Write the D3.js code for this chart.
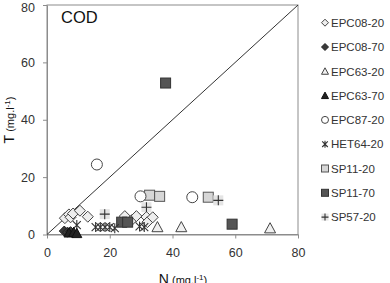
<!DOCTYPE html>
<html><head><meta charset="utf-8">
<script src="https://cdn.jsdelivr.net/npm/d3@7/dist/d3.min.js"></script>
<style>body{margin:0;background:#fff;}svg{display:block;font-family:"Liberation Sans",Arial,sans-serif;}</style>
</head><body>
<script>
const seriesNames = ["EPC08-20","EPC08-70","EPC63-20","EPC63-70","EPC87-20","HET64-20","SP11-20","SP11-70","SP57-20"];
const EPC08_20 = [[5.7,5.7],[7,7],[7.5,6],[8.3,7.3],[10.5,8.3],[13,6.2],[24.8,6.4],[27,5],[28.5,6.4],[31.7,6.1],[32,4.3],[33.7,6]];
const EPC08_70 = [[5.5,1.2],[6.5,0.8],[7.5,1.0]];
const EPC63_20 = [[35.2,2.6],[42.8,2.6],[71.1,2.2]];
const EPC63_70 = [[7,0.6],[8.5,0.8],[9.5,0.4]];
const EPC87_20 = [[15.9,24.4],[29.8,13.3],[46.3,13]];
const HET64_20 = [[9.5,3.3],[15.5,2.6],[17,2.6],[18.5,2.6],[20,2.6],[21.6,2.2],[29.5,2.8],[31,2.6]];
const SP11_20 = [[32.7,13.7],[35.9,13.3],[51.4,13]];
const SP11_70 = [[37.8,52.8],[23.8,4.3],[25.7,4.3],[59,3.6]];
const SP57_20 = [[18.4,7.1],[31.7,9.5],[54.6,11.9]];
const xTicks = [0,20,40,60,80];
const yTicks = [0,20,40,60,80];
const seriesData = [EPC08_20,EPC08_70,EPC63_20,EPC63_70,EPC87_20,HET64_20,SP11_20,SP11_70,SP57_20];

const W=390,H=283;
const svg=d3.select("body").append("svg").attr("width",W).attr("height",H);
const x=d3.scaleLinear().domain([0,80]).range([47,298]);
const y=d3.scaleLinear().domain([0,80]).range([234.5,5]);

svg.append("rect").attr("x",x(0)).attr("y",y(80)).attr("width",x(80)-x(0)).attr("height",y(0)-y(80))
  .attr("fill","none").attr("stroke","#8c8c8c").attr("stroke-width",1);

const xa=svg.append("g").attr("transform",`translate(0,${y(0)})`)
  .call(d3.axisBottom(x).tickValues(xTicks).tickSize(4).tickSizeOuter(0).tickPadding(10));
const ya=svg.append("g").attr("transform",`translate(${x(0)},0)`)
  .call(d3.axisLeft(y).tickValues(yTicks).tickSize(4).tickSizeOuter(0).tickPadding(8));
[xa,ya].forEach(g=>{
  g.select(".domain").attr("stroke","#8c8c8c");
  g.selectAll(".tick line").attr("stroke","#8c8c8c");
  g.selectAll(".tick text").attr("fill","#333").style("font-size","12.5px").style("font-family","Liberation Sans, Arial, sans-serif");
});
ya.selectAll(".tick text").filter(d=>d===80).attr("dy","0.5em");

svg.append("line").attr("x1",x(0)).attr("y1",y(0)).attr("x2",x(80)).attr("y2",y(80))
  .attr("stroke","#333").attr("stroke-width",1);

svg.append("text").attr("x",61).attr("y",23).attr("fill","#111").style("font-size","16.5px").text("COD");

function marker(g,type,s){
  const h=s/2;
  switch(type){
    case 0: g.append("path").attr("d",`M0,${-h}L${h},0L0,${h}L${-h},0Z`).attr("fill","#eeeeee").attr("stroke","#444").attr("stroke-width",1); break;
    case 1: g.append("path").attr("d",`M0,${-h}L${h},0L0,${h}L${-h},0Z`).attr("fill","#3a3a3a").attr("stroke","#222").attr("stroke-width",1); break;
    case 2: g.append("path").attr("d",`M0,${-h}L${h},${h*0.85}L${-h},${h*0.85}Z`).attr("fill","#f0f0f0").attr("stroke","#444").attr("stroke-width",1); break;
    case 3: g.append("path").attr("d",`M0,${-h}L${h},${h*0.85}L${-h},${h*0.85}Z`).attr("fill","#222").attr("stroke","#111").attr("stroke-width",1); break;
    case 4: g.append("circle").attr("r",h).attr("fill","#fff").attr("stroke","#444").attr("stroke-width",1); break;
    case 5: {const a=h*0.8;
      g.append("path").attr("d",`M${-a},${-a}L${a},${a}M${-a},${a}L${a},${-a}M0,${-h}L0,${h}`).attr("stroke","#333").attr("stroke-width",1.1).attr("fill","none"); break;}
    case 6: g.append("rect").attr("x",-h).attr("y",-h).attr("width",s).attr("height",s).attr("fill","#d6d6d6").attr("stroke","#555").attr("stroke-width",1); break;
    case 7: g.append("rect").attr("x",-h).attr("y",-h).attr("width",s).attr("height",s).attr("fill","#555").attr("stroke","#333").attr("stroke-width",1); break;
    case 8: g.append("rect").attr("x",-h).attr("y",-h).attr("width",s).attr("height",s).attr("fill","#e4e4e4").attr("stroke","none");
      g.append("path").attr("d",`M${-h},0L${h},0M0,${-h}L0,${h}`).attr("stroke","#333").attr("stroke-width",1.1); break;
  }
}
const sizes=[11,10,11,10,11,10,10,10,10];
const drawOrder=[0,6,7,2,4,5,8,1,3];
drawOrder.forEach(i=>{
  seriesData[i].forEach(d=>{
    const g=svg.append("g").attr("transform",`translate(${x(d[0])},${y(d[1])})`);
    marker(g,i,sizes[i]);
  });
});

seriesNames.forEach((n,i)=>{
  const yy=22.7+i*24.3;
  const g=svg.append("g").attr("transform",`translate(325,${yy})`);
  marker(g,i,7);
  svg.append("text").attr("x",331).attr("y",yy+4.2).attr("fill","#333").style("font-size","11.5px").text(n);
});

const yl=svg.append("text").attr("transform","translate(14,120) rotate(-90)").attr("text-anchor","middle").attr("fill","#111");
yl.append("tspan").style("font-size","14px").text("T");
yl.append("tspan").style("font-size","11px").text("  (mg.l");
yl.append("tspan").style("font-size","8px").attr("dy",-4).text("-1");
yl.append("tspan").style("font-size","11px").attr("dy",4).text(")");

const xl=svg.append("text").attr("x",183).attr("y",284).attr("text-anchor","middle").attr("fill","#111");
xl.append("tspan").style("font-size","14px").text("N");
xl.append("tspan").style("font-size","11px").text(" (mg.l");
xl.append("tspan").style("font-size","8px").attr("dy",-4).text("-1");
xl.append("tspan").style("font-size","11px").attr("dy",4).text(")");
</script>
</body></html>
